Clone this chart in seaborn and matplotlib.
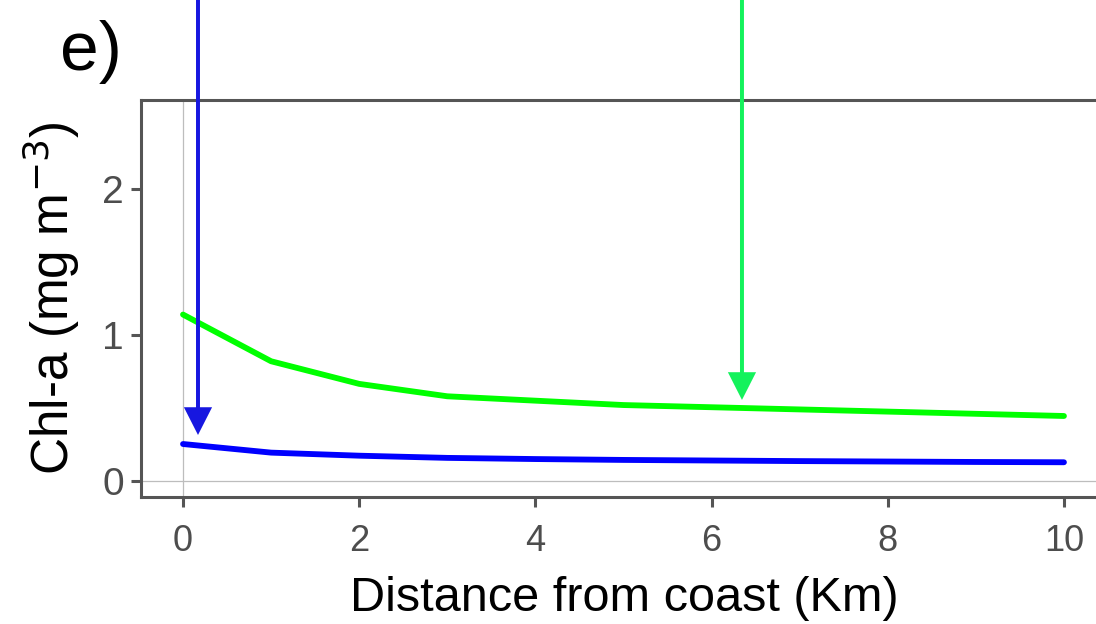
import numpy as np
import pandas as pd
import seaborn as sns
import matplotlib.pyplot as plt

# Chlorophyll-a profiles with distance offshore
distance_km = [0, 1, 2, 3, 4, 5, 6, 7, 8, 9, 10]
chl_green = [1.14, 0.82, 0.665, 0.58, 0.55, 0.52, 0.505, 0.49, 0.475, 0.46, 0.445]
chl_blue = [0.253, 0.194, 0.173, 0.158, 0.15, 0.144, 0.14, 0.136, 0.133, 0.13, 0.128]
series_names = ["green", "blue"]

# Vertical arrows: x position and tip height
arrow_x = [0.17, 6.345]
arrow_tip = [0.315, 0.555]
arrow_names = ["blue", "green"]

x_ticks = [0, 2, 4, 6, 8, 10]
y_ticks = [0, 1, 2]

df = pd.DataFrame({
    "distance": distance_km * 2,
    "chl": chl_green + chl_blue,
    "series": [series_names[0]] * len(distance_km) + [series_names[1]] * len(distance_km),
})

sns.set_theme(style="white")
plt.rcParams["font.family"] = ["Liberation Sans", "DejaVu Sans"]

fig = plt.figure(figsize=(10.96, 6.24), dpi=100)
ax = fig.add_axes([141 / 1096, 127 / 624, 967 / 1096, 397 / 624])

ax.axvline(0, color="#bdbdbd", lw=0.9, zorder=1)
ax.axhline(0, color="#bdbdbd", lw=0.9, zorder=1)

sns.lineplot(data=df, x="distance", y="chl", hue="series",
             palette={"green": "#00ff00", "blue": "#0000ff"},
             legend=False, ax=ax, zorder=3)
for line in ax.get_lines()[2:]:
    line.set_linewidth(4.2)
    line.set_solid_joinstyle("round")

arrow_colors = {"blue": "#1717e0", "green": "#14f25c"}
for xa, tip, name in zip(arrow_x, arrow_tip, arrow_names):
    start = 3.4
    ax.arrow(xa, start, 0, tip - start, width=0.045, head_width=0.32,
             head_length=0.19, length_includes_head=True,
             color=arrow_colors[name], lw=0, clip_on=False, zorder=4)

ax.set_xlim(-0.477, 10.5)
ax.set_ylim(-0.11, 2.61)
ax.set_xticks(x_ticks)
ax.set_yticks(y_ticks)

for side in ["left", "bottom", "top"]:
    ax.spines[side].set_color("#555555")
    ax.spines[side].set_linewidth(2.2)
ax.spines["right"].set_visible(False)

ax.tick_params(axis="both", which="major", length=7.5, width=2.2, color="#555555",
               labelcolor="#4d4d4d", left=True, bottom=True)
ax.tick_params(axis="y", pad=5, labelsize=28)
ax.tick_params(axis="x", pad=12, labelsize=26)

ax.set_xlabel("Distance from coast (Km)", fontsize=35, color="black", labelpad=12)
ax.set_ylabel("Chl-a (mg m$^{-3}$)", fontsize=37, color="black", labelpad=14)

fig.text(60 / 1096, 1 - 70 / 624, "e)", fontsize=50, color="black",
         ha="left", va="baseline")

fig.savefig("out.png", dpi=100)
